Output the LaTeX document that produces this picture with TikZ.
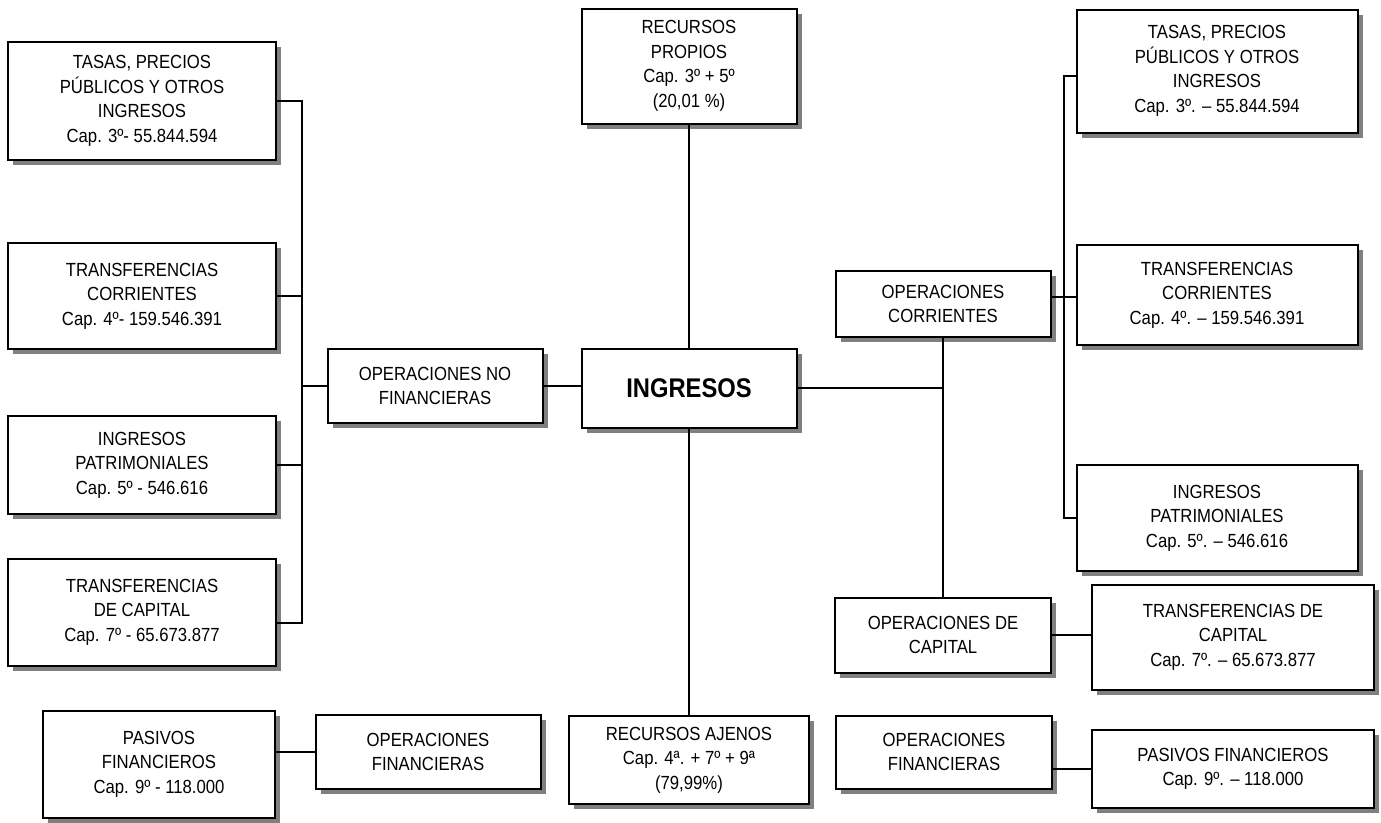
\documentclass[tikz,border=0pt]{standalone}
\usepackage{fontspec}
\setmainfont{Liberation Sans}[FakeStretch=0.88]
\usetikzlibrary{shadows}
\tikzset{
  box/.style={draw=black, line width=2pt, fill=white, align=center, inner sep=2pt,
    font=\fontsize{19}{24.5}\selectfont,
    drop shadow={shadow xshift=5pt, shadow yshift=-5pt, fill=black!50, opacity=1}},
  conn/.style={draw=black, line width=2pt}
}
\begin{document}
\begin{tikzpicture}[x=1pt,y=-1pt]
\useasboundingbox (0,0) rectangle (1381,822);
% left column
\node[box, minimum width=268, minimum height=118] (L1) at (142,101) {TASAS, PRECIOS\\PÚBLICOS Y OTROS\\INGRESOS\\Cap. 3º- 55.844.594};
\node[box, minimum width=268, minimum height=106] (L2) at (142,296) {TRANSFERENCIAS\\CORRIENTES\\Cap. 4º- 159.546.391};
\node[box, minimum width=268, minimum height=98] (L3) at (142,465) {INGRESOS\\PATRIMONIALES\\Cap. 5º - 546.616};
\node[box, minimum width=268, minimum height=107] (L4) at (142,612) {TRANSFERENCIAS\\DE CAPITAL\\Cap. 7º - 65.673.877};
\node[box, minimum width=232, minimum height=107] (L5) at (159,764) {PASIVOS\\FINANCIEROS\\Cap. 9º - 118.000};
\node[box, minimum width=225, minimum height=74] (OFL) at (428,752) {OPERACIONES\\FINANCIERAS};
\node[box, minimum width=215, minimum height=74] (ONF) at (435,386) {OPERACIONES NO\\FINANCIERAS};
% centre
\node[box, minimum width=215, minimum height=115] (RP) at (689,66) {RECURSOS\\PROPIOS\\Cap. 3º + 5º\\(20,01 \%)};
\node[box, minimum width=215, minimum height=79, font=\fontsize{27}{30}\selectfont\bfseries] (ING) at (689,388) {INGRESOS};
\node[box, minimum width=240, minimum height=88] (RA) at (689,760) {RECURSOS AJENOS\\Cap. 4ª. + 7º + 9ª\\(79,99\%)};
% right
\node[box, minimum width=215, minimum height=66] (OC) at (943,304) {OPERACIONES\\CORRIENTES};
\node[box, minimum width=281, minimum height=123] (R1) at (1217,71) {TASAS, PRECIOS\\PÚBLICOS Y OTROS\\INGRESOS\\Cap. 3º. – 55.844.594};
\node[box, minimum width=281, minimum height=100] (R2) at (1217,295) {TRANSFERENCIAS\\CORRIENTES\\Cap. 4º. – 159.546.391};
\node[box, minimum width=281, minimum height=106] (R3) at (1217,518) {INGRESOS\\PATRIMONIALES\\Cap. 5º. – 546.616};
\node[box, minimum width=216, minimum height=75] (OCap) at (943,635) {OPERACIONES DE\\CAPITAL};
\node[box, minimum width=282, minimum height=105] (R4) at (1233,637) {TRANSFERENCIAS DE\\CAPITAL\\Cap. 7º. – 65.673.877};
\node[box, minimum width=216, minimum height=73] (OFR) at (944,752) {OPERACIONES\\FINANCIERAS};
\node[box, minimum width=282, minimum height=78] (PFR) at (1233,769) {PASIVOS FINANCIEROS\\Cap. 9º. – 118.000};
% connectors
\coordinate (bl1) at (302,101);
\coordinate (bl4) at (302,623);
\draw[conn] (L1.east) -- (bl1) -- (bl4) -- (L4.east |- bl4);
\draw[conn] (L2.east) -- (L2.east -| bl1);
\draw[conn] (L3.east) -- (L3.east -| bl1);
\draw[conn] (ONF.west) -- (ONF.west -| bl1);
\draw[conn] (ONF.east) -- (ING.west |- ONF.east);
\draw[conn] (OFL.west) -- (OFL.west -| L5.east);
\draw[conn] (RP.south) -- (ING.north);
\draw[conn] (ING.south) -- (RA.north);
\draw[conn] (ING.east) -- (ING.east -| OC.south);
\draw[conn] (OC.south) -- (OCap.north);
\coordinate (br1) at (1064,76);
\coordinate (br2) at (1064,297);
\coordinate (br3) at (1064,518);
\draw[conn] (R1.west |- br1) -- (br1) -- (br3) -- (R3.west |- br3);
\draw[conn] (OC.east |- br2) -- (R2.west |- br2);
\draw[conn] (OCap.east) -- (OCap.east -| R4.west);
\draw[conn] (PFR.west) -- (PFR.west -| OFR.east);
\end{tikzpicture}
\end{document}
